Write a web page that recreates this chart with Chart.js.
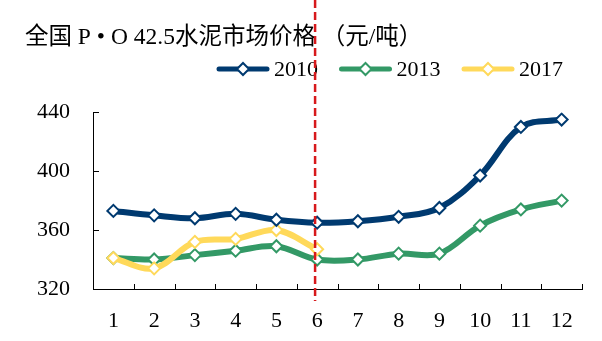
<!DOCTYPE html>
<html><head><meta charset="utf-8">
<script src="https://cdn.jsdelivr.net/npm/chart.js@4.4.0/dist/chart.umd.min.js"></script>
<style>html,body{margin:0;padding:0;background:#fff;}canvas{display:block;}</style>
</head><body>
<canvas id="c" width="602" height="341"></canvas>
<script>
// ---- data ----
const titleText = '全国 P • O 42.5水泥市场价格 （元/吨）';
const months = ['1','2','3','4','5','6','7','8','9','10','11','12'];
const seriesNames = ['2010', '2013', '2017'];
const values2010 = [373, 370, 368, 371, 367, 365, 366, 369, 375, 397, 430, 435];
const values2013 = [341, 340, 343, 346, 349, 340, 340, 344, 344, 363, 374, 380];
const values2017 = [341, 334, 352, 354, 360, 347, null, null, null, null, null, null];
const yTicks = [320, 360, 400, 440];
const dividerIndex = 4.95; // red dashed divider, just left of month 6 (category index)

const colors = ['#003A70', '#339966', '#FFD95A'];
const serif = '"Liberation Serif", "Times New Roman", "Noto Sans CJK SC", serif';

function mkDs(label, data, color, order) {
  return {
    label, data, borderColor: color, backgroundColor: color,
    borderWidth: 6, tension: 0.35, order,
    pointStyle: 'rectRot', pointRadius: 6, pointBorderWidth: 2,
    pointBackgroundColor: '#ffffff', pointBorderColor: color,
    borderCapStyle: 'round', borderJoinStyle: 'round'
  };
}

const innerTicks = {
  id: 'innerTicks',
  afterDraw(chart) {
    const {ctx, chartArea: a, scales: {x, y}} = chart;
    ctx.save();
    ctx.strokeStyle = '#000'; ctx.lineWidth = 1;
    ctx.beginPath();
    y.ticks.forEach(t => {
      const py = Math.round(y.getPixelForValue(t.value)) + 0.5;
      ctx.moveTo(a.left, py); ctx.lineTo(a.left + 6, py);
    });
    for (let i = 0; i <= months.length; i++) {
      const px = Math.round(x.getPixelForValue(i - 0.5)) + 0.5;
      ctx.moveTo(px, a.bottom); ctx.lineTo(px, a.bottom - 5);
    }
    ctx.stroke();
    ctx.restore();
  }
};

const customLegend = {
  id: 'customLegend',
  afterDraw(chart) {
    const ctx = chart.ctx;
    ctx.save();
    ctx.font = '22px ' + serif;
    ctx.textBaseline = 'middle';
    let x = 216.5; const y = 69;
    chart.data.datasets.forEach(ds => {
      ctx.strokeStyle = ds.borderColor; ctx.lineWidth = 5; ctx.lineCap = 'round';
      ctx.beginPath(); ctx.moveTo(x + 2.5, y); ctx.lineTo(x + 50.5, y); ctx.stroke();
      const cx = x + 26.5;
      ctx.lineCap = 'butt'; ctx.lineWidth = 2; ctx.fillStyle = '#fff';
      ctx.beginPath();
      ctx.moveTo(cx - 6, y); ctx.lineTo(cx, y - 6); ctx.lineTo(cx + 6, y); ctx.lineTo(cx, y + 6);
      ctx.closePath(); ctx.fill(); ctx.stroke();
      ctx.fillStyle = '#000';
      ctx.fillText(ds.label, x + 57.5, y + 1);
      x += 57.5 + ctx.measureText(ds.label).width + 21;
    });
    ctx.restore();
  }
};

const divider = {
  id: 'divider',
  afterDraw(chart) {
    const {ctx, scales: {x}} = chart;
    const px = x.getPixelForValue(dividerIndex);
    ctx.save();
    ctx.strokeStyle = '#D7191C'; ctx.lineWidth = 2.5;
    ctx.setLineDash([8, 4]);
    ctx.beginPath(); ctx.moveTo(px, 0); ctx.lineTo(px, 301); ctx.stroke();
    ctx.restore();
  }
};

new Chart(document.getElementById('c'), {
  type: 'line',
  data: {
    labels: months,
    datasets: [
      mkDs(seriesNames[0], values2010, colors[0], 0),
      mkDs(seriesNames[1], values2013, colors[1], 2),
      mkDs(seriesNames[2], values2017, colors[2], 1)
    ]
  },
  options: {
    responsive: false, animation: false, events: [],
    layout: { padding: { left: 25, right: 20, top: 0, bottom: 8 } },
    plugins: {
      legend: { display: false },
      tooltip: { enabled: false },
      title: {
        display: true, text: titleText, align: 'start', color: '#000',
        font: { family: serif, size: 23.5, weight: 'normal' },
        padding: { top: 24, bottom: 60 }
      }
    },
    scales: {
      x: {
        type: 'category', offset: true,
        afterFit(s) { s.height = 44; },
        grid: { display: false, drawTicks: false },
        border: { display: true, color: '#000', width: 1 },
        ticks: { color: '#000', padding: 19, font: { family: serif, size: 22 }, maxRotation: 0, autoSkip: false }
      },
      y: {
        min: yTicks[0], max: yTicks[yTicks.length - 1],
        afterBuildTicks(s) { s.ticks = yTicks.map(v => ({ value: v })); },
        afterFit(s) { s.width = 68; },
        grid: { display: false, drawTicks: false },
        border: { display: true, color: '#000', width: 1 },
        ticks: { color: '#000', padding: 23, font: { family: serif, size: 22 } }
      }
    }
  },
  plugins: [innerTicks, customLegend, divider]
});
</script>
</body></html>
